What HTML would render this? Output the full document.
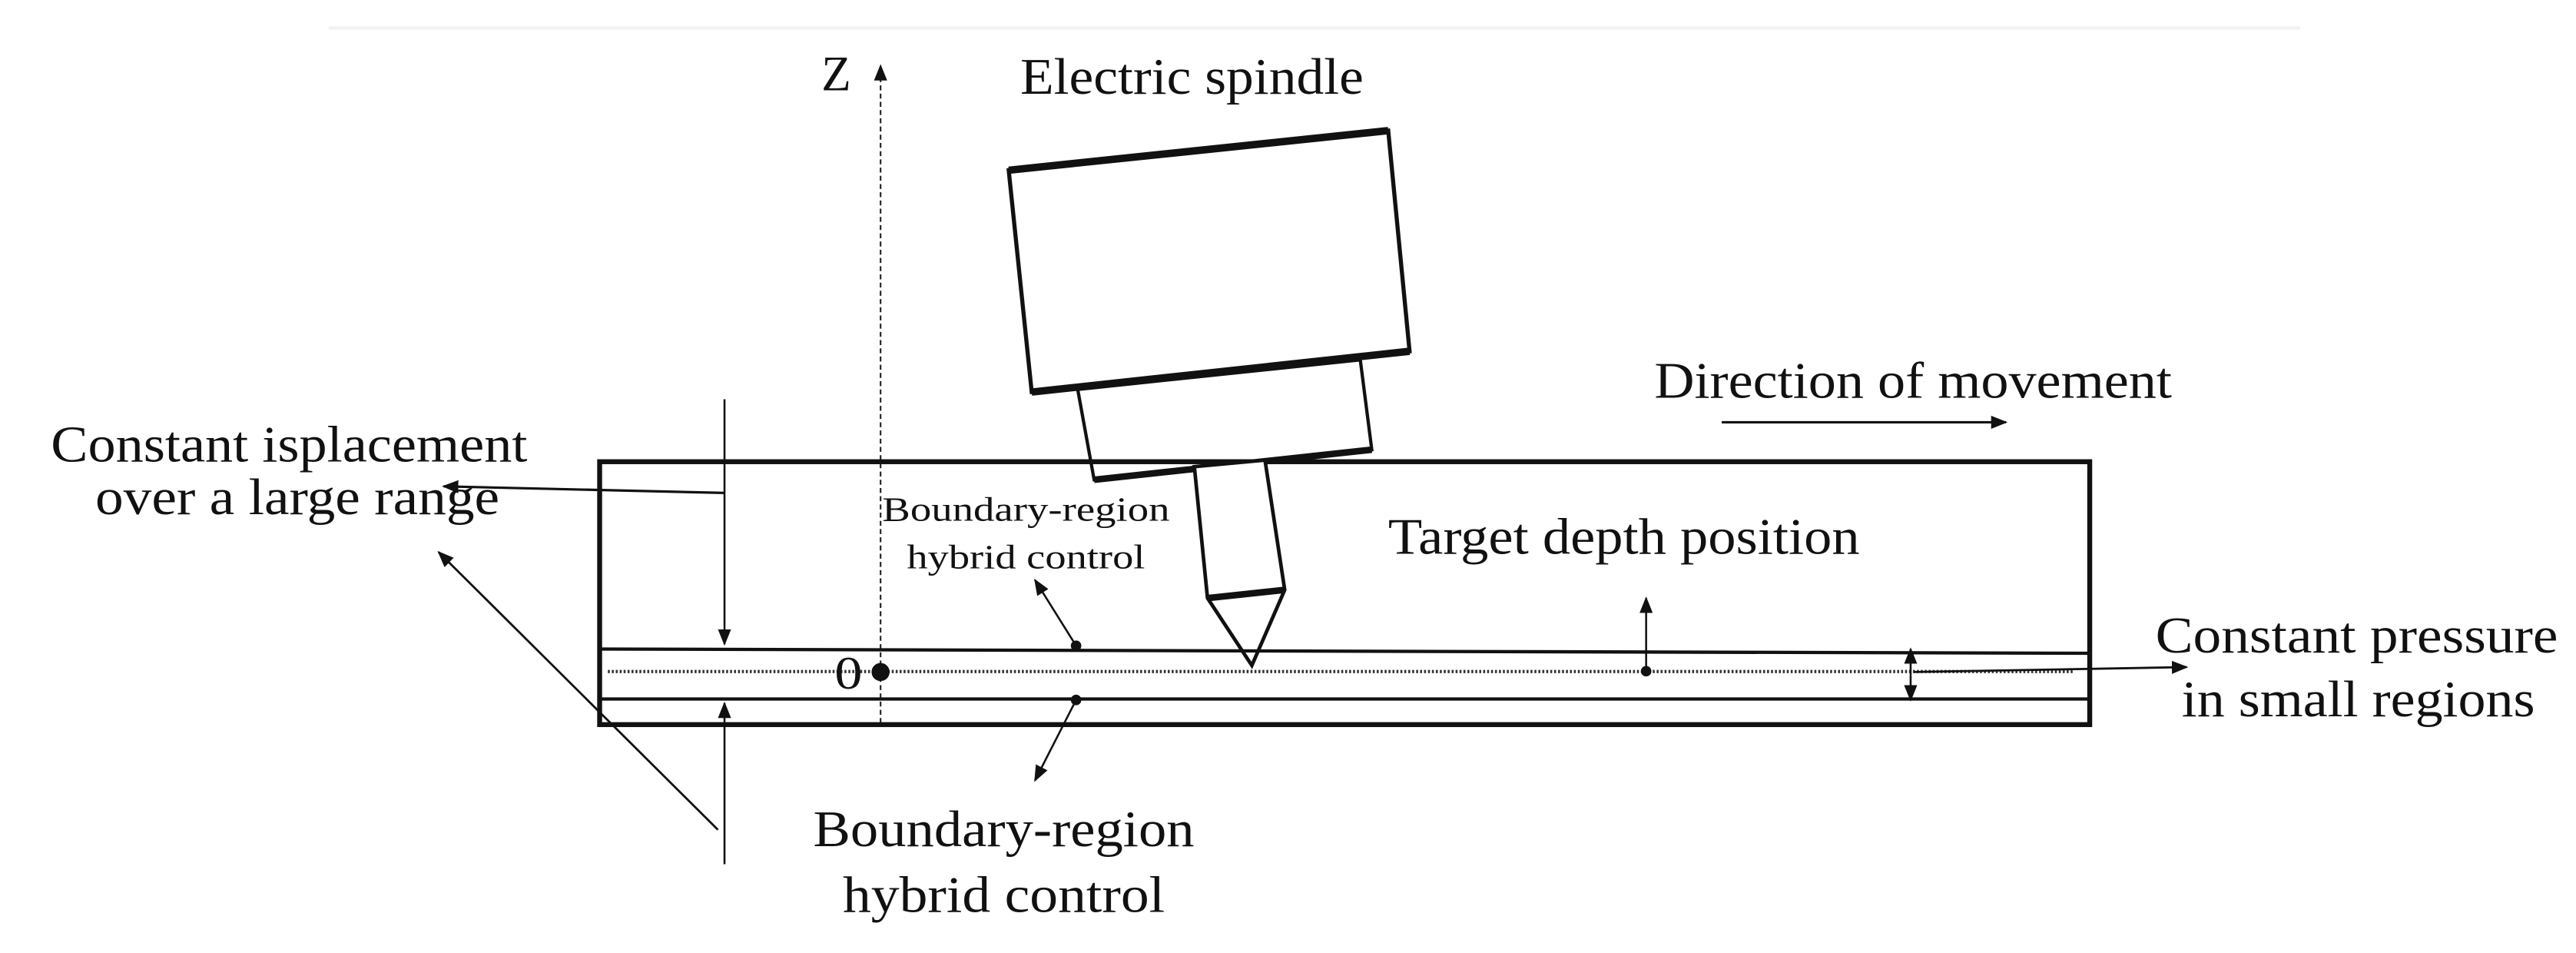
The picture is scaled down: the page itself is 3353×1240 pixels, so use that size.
<!DOCTYPE html>
<html><head><meta charset="utf-8"><style>html,body{margin:0;padding:0;background:#fff}svg{display:block}</style></head>
<body>
<svg width="3353" height="1240" viewBox="0 0 1568 580" preserveAspectRatio="none" xmlns="http://www.w3.org/2000/svg" font-family="Liberation Serif, serif" fill="#111">
<defs>
<marker id="a" markerWidth="10" markerHeight="8" refX="9" refY="4" orient="auto" markerUnits="userSpaceOnUse"><path d="M0,0 L10,4 L0,8 z" fill="#111"/></marker>
</defs>
<line x1="200" y1="17" x2="1400" y2="17" stroke="#f2f2f2" stroke-width="2"/>
<!-- Z axis -->
<line x1="536" y1="440" x2="536" y2="40" stroke="#222" stroke-width="1" stroke-dasharray="3,2" marker-end="url(#a)"/>
<text x="500" y="55" font-size="30" textLength="18" lengthAdjust="spacingAndGlyphs">Z</text>
<text x="621" y="57" font-size="31" textLength="209" lengthAdjust="spacingAndGlyphs">Electric spindle</text>
<!-- spindle -->
<polygon points="614,103.6 845,79.5 858,213.8 628,238.6" fill="#fff" stroke="#111" stroke-width="2.5"/>
<line x1="614" y1="103.6" x2="845" y2="79.5" stroke="#111" stroke-width="4.5"/>
<line x1="628" y1="238.6" x2="858" y2="213.8" stroke="#111" stroke-width="4.5"/>
<polygon points="656,237 828,219 835,273.7 666,292" fill="#fff" stroke="#111" stroke-width="2"/>
<line x1="666" y1="292" x2="835" y2="273.7" stroke="#111" stroke-width="4"/>
<!-- box -->
<rect x="365" y="281" width="907" height="160" fill="none" stroke="#111" stroke-width="3"/>
<!-- tool -->
<polygon points="727,284 770,280 782,359 762,405 735,364" fill="#fff" stroke="#111" stroke-width="2.2"/>
<line x1="735" y1="364" x2="782" y2="359" stroke="#111" stroke-width="4"/>
<!-- lines -->
<line x1="365" y1="395" x2="1272" y2="397.6" stroke="#111" stroke-width="2"/>
<line x1="370" y1="408.7" x2="1262" y2="408.7" stroke="#333" stroke-width="2" stroke-dasharray="1.2,1.2"/>
<line x1="365" y1="425.4" x2="1272" y2="425.4" stroke="#111" stroke-width="2"/>
<text x="508" y="419" font-size="28" textLength="17" lengthAdjust="spacingAndGlyphs">0</text>
<circle cx="536" cy="409" r="5.5"/>
<circle cx="655" cy="393" r="3.2"/>
<circle cx="655" cy="426" r="3.2"/>
<circle cx="1002" cy="408.5" r="3.2"/>
<!-- arrows -->
<line x1="441" y1="243" x2="441" y2="392" stroke="#111" stroke-width="1.2" marker-end="url(#a)"/>
<line x1="441" y1="526" x2="441" y2="428" stroke="#111" stroke-width="1.2" marker-end="url(#a)"/>
<line x1="441" y1="300" x2="270" y2="296" stroke="#111" stroke-width="1.5" marker-end="url(#a)"/>
<line x1="437" y1="505" x2="267" y2="336" stroke="#111" stroke-width="1.3" marker-end="url(#a)"/>
<line x1="655" y1="393" x2="630" y2="353" stroke="#111" stroke-width="1.2" marker-end="url(#a)"/>
<line x1="655" y1="426" x2="630" y2="475" stroke="#111" stroke-width="1.2" marker-end="url(#a)"/>
<line x1="1002" y1="408" x2="1002" y2="364" stroke="#111" stroke-width="1.2" marker-end="url(#a)"/>
<line x1="1163" y1="411" x2="1163" y2="395" stroke="#111" stroke-width="1.2" marker-end="url(#a)"/>
<line x1="1163" y1="411" x2="1163" y2="426" stroke="#111" stroke-width="1.2" marker-end="url(#a)"/>
<line x1="1165" y1="409" x2="1331" y2="406" stroke="#111" stroke-width="1.3" marker-end="url(#a)"/>
<line x1="1048" y1="257" x2="1221" y2="257" stroke="#111" stroke-width="1.5" marker-end="url(#a)"/>
<!-- text -->
<text x="1007" y="242" font-size="31" textLength="315" lengthAdjust="spacingAndGlyphs">Direction of movement</text>
<text x="31" y="281" font-size="31" textLength="290" lengthAdjust="spacingAndGlyphs">Constant isplacement</text>
<text x="58" y="313" font-size="31" textLength="246" lengthAdjust="spacingAndGlyphs">over a large range</text>
<text x="537" y="317" font-size="21" textLength="175" lengthAdjust="spacingAndGlyphs">Boundary-region</text>
<text x="552" y="346" font-size="21" textLength="145" lengthAdjust="spacingAndGlyphs">hybrid control</text>
<text x="845" y="337" font-size="31" textLength="287" lengthAdjust="spacingAndGlyphs">Target depth position</text>
<text x="1312" y="397" font-size="31" textLength="245" lengthAdjust="spacingAndGlyphs">Constant pressure</text>
<text x="1328" y="436" font-size="31" textLength="215" lengthAdjust="spacingAndGlyphs">in small regions</text>
<text x="495" y="515" font-size="31" textLength="232" lengthAdjust="spacingAndGlyphs">Boundary-region</text>
<text x="513" y="555" font-size="31" textLength="196" lengthAdjust="spacingAndGlyphs">hybrid control</text>
</svg>
</body></html>
